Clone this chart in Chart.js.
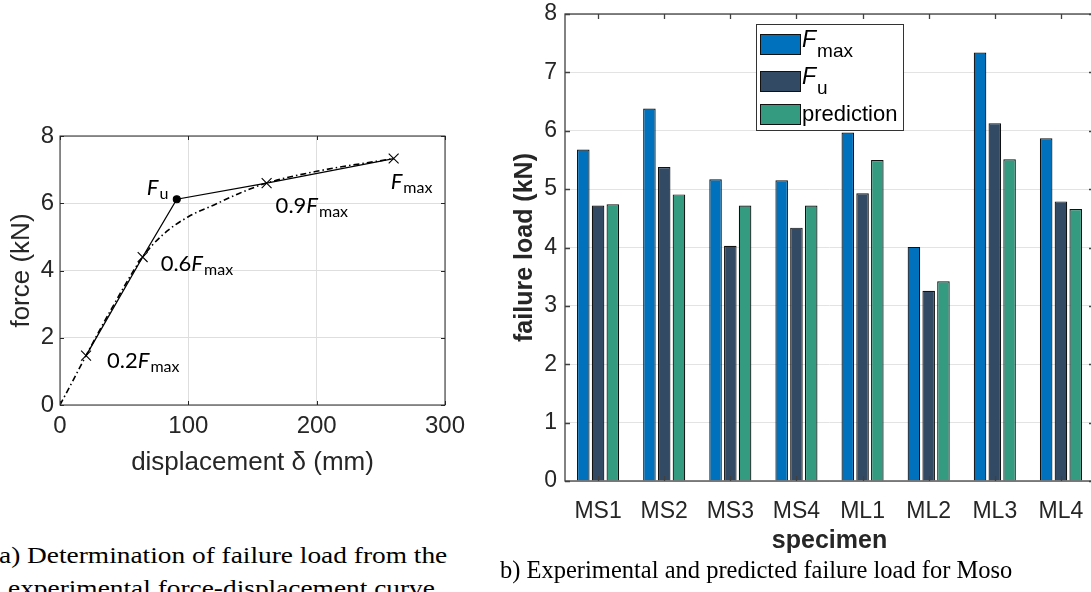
<!DOCTYPE html>
<html>
<head>
<meta charset="utf-8">
<script src="https://cdn.jsdelivr.net/npm/chart.js@4.4.1/dist/chart.umd.min.js"></script>
<style>
  html, body { margin: 0; padding: 0; background: #fff; }
  body { width: 1091px; height: 592px; overflow: hidden; position: relative; }
  .box { position: absolute; }
  #leftBox { left: 0; top: 110px; width: 480px; height: 380px; }
  #rightBox { left: 500px; top: 0; width: 600px; height: 560px; }
  .cap { position: absolute; font-family: "Liberation Serif", serif; font-size: 24.5px; color: #000; white-space: nowrap; transform-origin: left top; }
  .capA { font-size: 24px; transform: scaleX(1.14); }
</style>
</head>
<body>
<div class="box" id="leftBox"><canvas id="forceChart"></canvas></div>
<div class="box" id="rightBox"><canvas id="loadChart"></canvas></div>
<div class="cap capA" style="left:-1px; top:542px;">a) Determination of failure load from the</div>
<div class="cap capA" style="left:8px; top:575px;">experimental force-displacement curve</div>
<div class="cap" style="left:500px; top:556px;">b) Experimental and predicted failure load for Moso</div>

<script>
// (a) force-displacement curve
const dispCurve  = [0, 10, 20.3, 40, 64.4, 80, 100, 120, 140, 161, 200, 260];
const forceCurve = [0, 0.72, 1.47, 2.85, 4.40, 5.06, 5.60, 5.95, 6.30, 6.60, 6.95, 7.33];
// key points: 0.2Fmax, 0.6Fmax, Fu, 0.9Fmax, Fmax
const dispKey  = [20.3, 64.4, 91, 161, 260];
const forceKey = [1.47, 4.40, 6.12, 6.60, 7.33];
const keyPrefix = ['0.2', '0.6', '', '0.9', ''];
const keySub    = ['max', 'max', 'u', 'max', 'max'];

// (b) failure loads
const specimens  = ['MS1', 'MS2', 'MS3', 'MS4', 'ML1', 'ML2', 'ML3', 'ML4'];
const fMax       = [5.68, 6.38, 5.17, 5.15, 5.97, 4.01, 7.34, 5.87];
const fU         = [4.72, 5.38, 4.03, 4.34, 4.93, 3.26, 6.13, 4.79];
const prediction = [4.74, 4.91, 4.72, 4.72, 5.50, 3.42, 5.51, 4.66];

const SANS = '"Liberation Sans", Arial, sans-serif';

// text like 0.2F_max : prefix, italic F, subscript
function drawFText(ctx, x, y, prefix, sub, size, family, subSize, subDrop) {
  ctx.save();
  ctx.fillStyle = '#000';
  ctx.textBaseline = 'alphabetic';
  ctx.textAlign = 'left';
  ctx.font = size + 'px ' + family;
  ctx.fillText(prefix, x, y);
  x += ctx.measureText(prefix).width;
  ctx.font = 'italic ' + size + 'px ' + family;
  ctx.fillText('F', x, y);
  x += ctx.measureText('F').width + 1;
  ctx.font = subSize + 'px ' + family;
  ctx.fillText(sub, x, y + subDrop);
  ctx.restore();
}

// box round the axes with inward ticks, as matlab does
const framePlugin = {
  id: 'frame',
  afterDatasetsDraw(chart, args, opts) {
    const {ctx, chartArea: a, scales: {x, y}} = chart;
    ctx.save();
    ctx.strokeStyle = opts.color;
    ctx.lineWidth = opts.width;
    ctx.strokeRect(a.left, a.top, a.right - a.left, a.bottom - a.top);
    const len = opts.tick;
    ctx.beginPath();
    y.ticks.forEach((t, i) => {
      const py = Math.round(y.getPixelForTick(i)) + 0.5;
      ctx.moveTo(a.left, py); ctx.lineTo(a.left + len, py);
      ctx.moveTo(a.right, py); ctx.lineTo(a.right - len, py);
    });
    x.ticks.forEach((t, i) => {
      const px = Math.round(x.getPixelForTick(i)) + 0.5;
      ctx.moveTo(px, a.bottom); ctx.lineTo(px, a.bottom - len);
      ctx.moveTo(px, a.top); ctx.lineTo(px, a.top + len);
    });
    ctx.stroke();
    ctx.restore();
  }
};

// labels next to the key points
const labelOffsets = [[21, 12], [18, 14], [-30, -4], [9, 30], [-3, 30]];
const keyLabelPlugin = {
  id: 'keyLabels',
  afterDatasetsDraw(chart) {
    const {ctx, scales: {x, y}} = chart;
    dispKey.forEach((d, i) => {
      const px = x.getPixelForValue(d) + labelOffsets[i][0];
      const py = y.getPixelForValue(forceKey[i]) + labelOffsets[i][1];
      drawFText(ctx, px, py, keyPrefix[i], keySub[i], 22, 'Lato, "Open Sans", sans-serif', 16, 4);
    });
  }
};

// boxed legend with subscripts
const legendPlugin = {
  id: 'boxLegend',
  afterDatasetsDraw(chart) {
    const {ctx, chartArea: a} = chart;
    const bx = a.left + 191, by = a.top + 10, bw = 147, bh = 106;
    ctx.save();
    ctx.fillStyle = '#fff';
    ctx.fillRect(bx, by, bw, bh);
    ctx.strokeStyle = '#333';
    ctx.lineWidth = 1;
    ctx.strokeRect(bx + 0.5, by + 0.5, bw, bh);
    const rows = [20, 57, 90];
    chart.data.datasets.forEach((ds, i) => {
      const cy = by + rows[i];
      ctx.fillStyle = ds.backgroundColor;
      ctx.fillRect(bx + 4, cy - 10, 40, 20);
      ctx.strokeStyle = '#111';
      ctx.strokeRect(bx + 4.5, cy - 9.5, 40, 20);
      if (ds.label === 'prediction') {
        ctx.fillStyle = '#000';
        ctx.font = '22px ' + SANS;
        ctx.textBaseline = 'middle';
        ctx.fillText(ds.label, bx + 46, cy + 1);
      } else {
        drawFText(ctx, bx + 46, cy + 3, '', ds.label.slice(1), 23, SANS, 19, 10);
      }
    });
    ctx.restore();
  }
};

new Chart(document.getElementById('forceChart'), {
  type: 'line',
  data: {
    datasets: [{
      label: 'curve',
      data: dispCurve.map((d, i) => ({x: d, y: forceCurve[i]})),
      borderColor: '#000',
      borderWidth: 1.6,
      borderDash: [6, 3, 1.5, 3],
      pointRadius: 0,
      cubicInterpolationMode: 'monotone'
    }, {
      label: 'key',
      data: dispKey.map((d, i) => ({x: d, y: forceKey[i]})),
      borderColor: '#000',
      borderWidth: 1.3,
      pointStyle: ['crossRot', 'crossRot', 'circle', 'crossRot', 'crossRot'],
      pointRadius: [7, 7, 3.5, 7, 7],
      pointBorderWidth: 1.1,
      pointBackgroundColor: '#000',
      pointBorderColor: '#000'
    }]
  },
  options: {
    responsive: true,
    maintainAspectRatio: false,
    animation: false,
    layout: { padding: { left: 0, top: 26, right: 35, bottom: 0 } },
    plugins: {
      legend: { display: false },
      tooltip: { enabled: false },
      frame: { color: '#262626', width: 1, tick: 4 }
    },
    scales: {
      x: {
        type: 'linear', min: 0, max: 300,
        ticks: { stepSize: 100, color: '#262626', font: { family: SANS, size: 24 }, padding: 7 },
        grid: { color: '#dedede', drawTicks: false },
        border: { display: false },
        title: { display: true, text: 'displacement δ (mm)', color: '#262626', font: { family: SANS, size: 26 }, padding: { top: 0, bottom: 12 } },
        afterFit: s => { s.height = 85; }
      },
      y: {
        min: 0, max: 8,
        ticks: { stepSize: 2, color: '#262626', font: { family: SANS, size: 24 }, padding: 6 },
        grid: { color: '#dedede', drawTicks: false },
        border: { display: false },
        title: { display: true, text: 'force (kN)', color: '#262626', font: { family: SANS, size: 26 }, padding: { top: 6, bottom: 0 } },
        afterFit: s => { s.width = 60; s.paddingTop = 0; s.paddingBottom = 0; }
      }
    }
  },
  plugins: [framePlugin, keyLabelPlugin]
});

new Chart(document.getElementById('loadChart'), {
  type: 'bar',
  data: {
    labels: specimens,
    datasets: [
      { label: 'Fmax', data: fMax, backgroundColor: '#0072BD' },
      { label: 'Fu', data: fU, backgroundColor: '#324A64' },
      { label: 'prediction', data: prediction, backgroundColor: '#349A80' }
    ]
  },
  options: {
    responsive: true,
    maintainAspectRatio: false,
    animation: false,
    layout: { padding: { left: 0, top: 14, right: 6, bottom: 0 } },
    datasets: {
      bar: { categoryPercentage: 0.67, barPercentage: 0.85, borderColor: '#111', borderWidth: 1.2 }
    },
    plugins: {
      legend: { display: false },
      tooltip: { enabled: false },
      frame: { color: '#404040', width: 1.3, tick: 5 }
    },
    scales: {
      x: {
        ticks: { color: '#262626', font: { family: SANS, size: 23 }, padding: 9 },
        grid: { display: false },
        border: { display: false },
        title: { display: true, text: 'specimen', color: '#262626', font: { family: SANS, size: 25, weight: 'bold' }, padding: { top: 0, bottom: 4 } },
        afterFit: s => { s.height = 79; s.paddingLeft = 0; s.paddingRight = 0; }
      },
      y: {
        min: 0, max: 8,
        ticks: { stepSize: 1, color: '#262626', font: { family: SANS, size: 23 }, padding: 8 },
        grid: { color: '#e3e3e3', drawTicks: false },
        border: { display: false },
        title: { display: true, text: 'failure load (kN)', color: '#262626', font: { family: SANS, size: 25, weight: 'bold' }, padding: { top: 10, bottom: 0 } },
        afterFit: s => { s.width = 65; s.paddingTop = 0; s.paddingBottom = 0; }
      }
    }
  },
  plugins: [framePlugin, legendPlugin]
});
</script>
</body>
</html>
